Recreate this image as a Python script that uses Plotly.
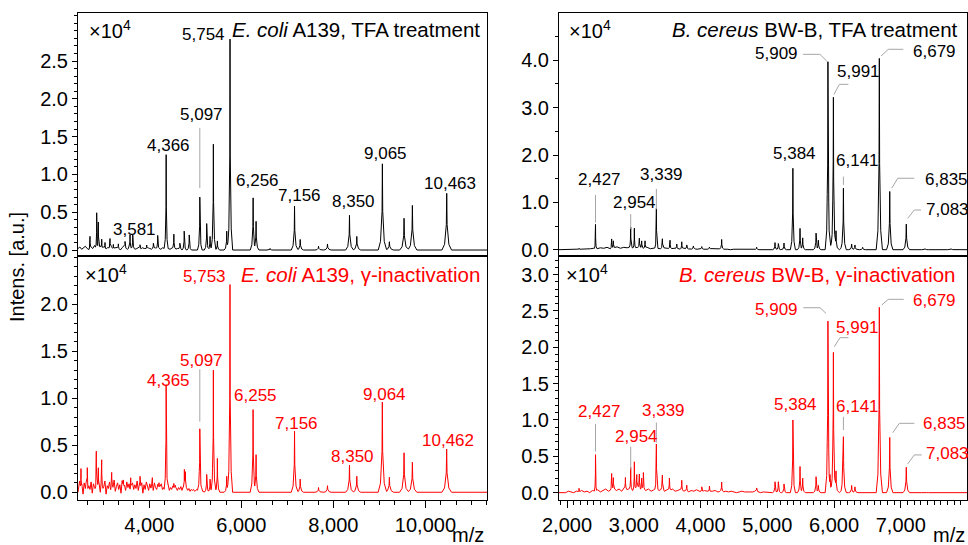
import numpy as np
import plotly.graph_objects as go

W, H = 968, 545
FONT = "Liberation Sans, Arial, sans-serif"

# ---------------- data (intensities in units of 10^4) ----------------
ecoli_tfa_mz = [2711, 2856, 2892, 2965, 3037, 3146, 3218, 3327, 3472, 3581, 3640, 3798, 3943,
                4088, 4182, 4366, 4533, 4664, 4758, 4867, 5097, 5247, 5320, 5392, 5479, 5682,
                5754, 6256, 6320, 6624, 7156, 7279, 7677, 7872, 8350, 8509, 9065, 9217, 9536,
                9717, 10463]
ecoli_tfa_h = [0.16, 0.48, 0.34, 0.12, 0.08, 0.12, 0.06, 0.06, 0.08, 0.17, 0.17, 0.05, 0.05,
               0.07, 0.18, 1.25, 0.20, 0.08, 0.25, 0.20, 0.70, 0.35, 0.18, 1.40, 0.12, 0.25,
               2.79, 0.69, 0.38, 0.02, 0.58, 0.14, 0.05, 0.08, 0.46, 0.18, 1.14, 0.11, 0.42,
               0.59, 0.75]
ecoli_tfa_noise_start, ecoli_tfa_noise_step = 2450, 40
ecoli_tfa_noise = [0.02, 0.04, 0.01, 0.03, 0.05, 0.02, 0.00, 0.04, 0.02, 0.06,
                   0.01, 0.03, 0.05, 0.02, 0.04, 0.01, 0.03, 0.02, 0.05, 0.01,
                   0.03, 0.04, 0.02, 0.00, 0.03, 0.05, 0.02, 0.01, 0.04, 0.02,
                   0.03, 0.01, 0.02, 0.04, 0.01, 0.03, 0.02, 0.01, 0.03, 0.02,
                   0.01, 0.02, 0.03, 0.01, 0.02, 0.01, 0.03, 0.02, 0.01, 0.02,
                   0.01, 0.02, 0.01, 0.01, 0.02, 0.01, 0.01]
ecoli_tfa_labels = [3581, 4366, 5097, 5754, 6256, 7156, 8350, 9065, 10463]
ecoli_tfa_yticks = [0.0, 0.5, 1.0, 1.5, 2.0, 2.5]

ecoli_gamma_mz = [2515, 2652, 2848, 2892, 2965, 3182, 3436, 3595, 3798, 4066, 4211, 4365, 4533,
                  4762, 4784, 5097, 5247, 5320, 5392, 5479, 5682, 5753, 6255, 6320, 7156, 7279,
                  7677, 7872, 8350, 8509, 9064, 9217, 9536, 9717, 10462]
ecoli_gamma_h = [0.22, 0.21, 0.36, 0.21, 0.26, 0.13, 0.09, 0.13, 0.11, 0.10, 0.08, 1.08, 0.08,
                 0.23, 0.17, 0.66, 0.19, 0.14, 1.30, 0.36, 0.17, 2.21, 0.88, 0.40, 0.65, 0.14,
                 0.05, 0.07, 0.29, 0.17, 0.96, 0.16, 0.42, 0.32, 0.46]
ecoli_gamma_noise_start, ecoli_gamma_noise_step = 2460, 25
ecoli_gamma_noise = [0.05, 0.12, 0.02, 0.08, -0.02, 0.10, 0.04, 0.14, 0.01, 0.07,
                     0.03, 0.11, -0.01, 0.09, 0.05, 0.02, 0.13, 0.04, 0.08, 0.00,
                     0.10, 0.03, 0.06, 0.12, -0.02, 0.07, 0.04, 0.11, 0.02, 0.09,
                     0.05, 0.13, 0.01, 0.06, 0.10, 0.03, 0.08, -0.01, 0.12, 0.04,
                     0.07, 0.02, 0.11, 0.05, 0.09, 0.00, 0.06, 0.10, 0.03, 0.08,
                     0.04, 0.12, 0.02, 0.07, 0.05, 0.10, -0.01, 0.08, 0.03, 0.11,
                     0.06, 0.02, 0.09, 0.04, 0.07, 0.01, 0.10, 0.05, 0.03, 0.08,
                     0.02, 0.06, 0.09, 0.03, 0.05, 0.01, 0.07, 0.04, 0.08, 0.02,
                     0.05, 0.03, 0.06, 0.01, 0.07, 0.04, 0.02, 0.05, 0.03, 0.06,
                     0.02, 0.04, 0.01, 0.05, 0.03, 0.02, 0.04, 0.01, 0.03, 0.02,
                     0.03, 0.01, 0.02, 0.03, 0.01, 0.02, 0.01, 0.02, 0.01, 0.01]
ecoli_gamma_labels = [4365, 5097, 5753, 6255, 7156, 8350, 9064, 10462]
ecoli_gamma_yticks = [0.0, 0.5, 1.0, 1.5, 2.0]

bcereus_tfa_mz = [2180, 2427, 2669, 2694, 2954, 3009, 3084, 3119, 3169, 3339, 3429, 3544, 3644,
                  3719, 3794, 3894, 4019, 4134, 4317, 4841, 5116, 5166, 5251, 5384, 5491, 5531,
                  5731, 5766, 5909, 5940, 5991, 6030, 6125, 6141, 6264, 6314, 6429, 6679, 6835,
                  7083, 7364, 7754]
bcereus_tfa_h = [0.02, 0.51, 0.20, 0.15, 0.42, 0.42, 0.20, 0.15, 0.15, 0.84, 0.20, 0.18, 0.10,
                 0.15, 0.08, 0.06, 0.05, 0.04, 0.20, 0.05, 0.15, 0.13, 0.14, 1.72, 0.45, 0.25,
                 0.35, 0.20, 3.97, 0.30, 3.22, 0.40, 0.30, 1.30, 0.12, 0.10, 0.05, 4.04, 1.23,
                 0.54, 0.02, 0.02]
bcereus_tfa_noise_start, bcereus_tfa_noise_step = 1900, 50
bcereus_tfa_noise = [0.00, 0.01, 0.00, 0.01, 0.00, 0.01, 0.01, 0.02, 0.01, 0.02,
                     0.03, 0.02, 0.04, 0.03, 0.05, 0.02, 0.04, 0.06, 0.03, 0.05,
                     0.04, 0.06, 0.03, 0.05, 0.04, 0.03, 0.05, 0.02, 0.04, 0.03,
                     0.02, 0.04, 0.03, 0.02, 0.03, 0.02, 0.01, 0.03, 0.02, 0.01,
                     0.02, 0.01, 0.02, 0.01, 0.01, 0.02, 0.01, 0.01, 0.02, 0.01,
                     0.01, 0.00, 0.01, 0.01, 0.00, 0.01, 0.01, 0.00, 0.01, 0.00]
bcereus_tfa_yticks = [0.0, 1.0, 2.0, 3.0, 4.0]

bcereus_gamma_mz = [2180, 2427, 2669, 2694, 2875, 2954, 3009, 3045, 3084, 3119, 3144, 3339, 3429,
                    3534, 3719, 3794, 4019, 4134, 4317, 4841, 5116, 5166, 5251, 5384, 5491, 5531,
                    5731, 5766, 5909, 5940, 5991, 6030, 6125, 6141, 6264, 6314, 6679, 6835, 7083,
                    7364, 7754]
bcereus_gamma_h = [0.05, 0.50, 0.22, 0.15, 0.15, 0.30, 0.38, 0.18, 0.20, 0.15, 0.22, 0.61, 0.20,
                   0.17, 0.14, 0.08, 0.07, 0.08, 0.13, 0.05, 0.15, 0.15, 0.12, 1.00, 0.36, 0.20,
                   0.22, 0.10, 2.36, 0.25, 1.93, 0.30, 0.25, 0.77, 0.10, 0.08, 2.55, 0.76, 0.35,
                   0.01, 0.01]
bcereus_gamma_noise_start, bcereus_gamma_noise_step = 1900, 40
bcereus_gamma_noise = [0.00, 0.01, 0.00, 0.02, 0.01, 0.00, 0.02, 0.01, 0.03, 0.01,
                       0.02, 0.00, 0.03, 0.02, 0.04, 0.01, 0.03, 0.05, 0.02, 0.04,
                       0.06, 0.03, 0.05, 0.02, 0.07, 0.04, 0.06, 0.03, 0.05, 0.08,
                       0.04, 0.06, 0.03, 0.05, 0.02, 0.04, 0.06, 0.03, 0.05, 0.02,
                       0.04, 0.03, 0.05, 0.02, 0.03, 0.04, 0.02, 0.03, 0.01, 0.03,
                       0.02, 0.04, 0.02, 0.01, 0.03, 0.02, 0.01, 0.02, 0.03, 0.01,
                       0.02, 0.01, 0.02, 0.01, 0.02, 0.01, 0.00, 0.01, 0.02, 0.01,
                       0.01, 0.00, 0.01, 0.02, 0.01, 0.00, 0.01, 0.01]
bcereus_labels = [2427, 2954, 3339, 5384, 5909, 5991, 6141, 6679, 6835, 7083]
bcereus_gamma_yticks = [0.0, 0.5, 1.0, 1.5, 2.0, 2.5, 3.0]

# ---------------- label styles (pixel offsets from peak tops) ----------------
style_ecoli_tfa = {
    3581: ("center", 4, 8, None), 4366: ("center", 2, 10, None),
    5097: ("center", 2, 83, [(0, -69), (0, -9)]), 5754: ("right", -3, 5, None),
    6256: ("center", 4, 17, None), 7156: ("center", 4.5, 11, None),
    8350: ("center", 4, 13.5, None), 9065: ("center", 3.4, 10.5, None),
    10463: ("center", 3.4, 10, None)}
style_ecoli_gamma = {
    4365: ("center", 2.3, 10.6, None), 5097: ("center", 2, 70, [(0, -61), (0, -8.6)]),
    5753: ("right", -2, 8, None), 6255: ("center", 2, 13.6, None),
    7156: ("center", 2, 8, None), 8350: ("center", 3, 8.3, None),
    9064: ("center", 2, 8, None), 10462: ("center", 1, 9, None)}
style_bc_tfa = {
    2427: ("center", 3.5, 45.6, [(0, -30.6), (0, -3)]),
    2954: ("center", 4.3, 27.5, [(0, -15.8), (0, -0.7)]),
    3339: ("center", 5.3, 35, [(0, -21), (0, -0.6)]),
    5384: ("center", 2, 15, None),
    5909: ("right", -28, 8.4, [(-25, -7.4), (-8, -7.4), (-1.2, -0.7)]),
    5991: ("center", 25, 25.5, [(15, -12.9), (6, -12.9), (0.6, -2.9)]),
    6141: ("center", 14.3, 27.5, [(0, -11.5), (0, -3.2)]),
    6679: ("left", 31.7, 6.7, [(24, -9.1), (9, -9.1), (1.7, -2.4)]),
    6835: ("left", 33, 11.5, [(24.6, -13.2), (8, -13.2), (2, -3.2)]),
    7083: ("left", 17.4, 14.8, [(14.7, -14.1), (8, -14.1), (1.4, -5.8)])}
style_bc_gamma = {
    2427: ("center", 3.5, 44.7, [(0, -32.4), (0, -4.7)]),
    2954: ("center", 6, 34, [(0, -24.2), (0, -1.6)]),
    3339: ("center", 7, 37.7, [(0, -25.7), (0, -5.7)]),
    5384: ("center", 3, 15.7, None),
    5909: ("right", -28, 12, [(-24.6, -13.4), (-7.9, -13.4), (-1.9, -7.8)]),
    5991: ("center", 24.3, 25, [(15, -14.7), (6.6, -14.7), (0.9, -5.7)]),
    6141: ("center", 14.3, 30, [(0, -20), (0, -6.7)]),
    6679: ("left", 31.7, 6.6, [(24.4, -8), (9, -8), (2.4, -2.3)]),
    6835: ("left", 31.3, 14, [(24.6, -14.1), (9.6, -14.1), (3, -4.7)]),
    7083: ("left", 17.4, 14, [(15.4, -12.3), (8, -12.3), (1.4, -3.3)])}

RED = "#ff0000"
BLACK = "#000000"
LEAD = "#a6a6a6"

panels = [
    dict(ax="", mz=ecoli_tfa_mz, h=ecoli_tfa_h, n0=ecoli_tfa_noise_start, nd=ecoli_tfa_noise_step,
         nv=ecoli_tfa_noise, color=BLACK, xpx=(78, 487.3), ypx=(13, 256), xr=(2450, 11345),
         yr=(-0.079, 3.135), yt=ecoli_tfa_yticks, ymin=0.1, xdt=2000, xmin=2000 / 6,
         showx=False, wfac=0.010, tip=0.0008, labels=ecoli_tfa_labels, style=style_ecoli_tfa,
         title="<i>E. coli</i> A139, TFA treatment", tshift=(-5, -17), x10=(9, -17)),
    dict(ax="2", mz=ecoli_gamma_mz, h=ecoli_gamma_h, n0=ecoli_gamma_noise_start,
         nd=ecoli_gamma_noise_step, nv=ecoli_gamma_noise, color=RED, xpx=(78, 487.3),
         ypx=(256, 499.5), xr=(2450, 11345), yr=(-0.077, 2.514), yt=ecoli_gamma_yticks,
         ymin=0.1, xdt=2000, xmin=2000 / 6, showx=True, wfac=0.010, tip=0.0008,
         labels=ecoli_gamma_labels, style=style_ecoli_gamma,
         title="<i>E. coli</i> A139, γ-inactivation", tshift=(-5.5, -18), x10=(5, -17)),
    dict(ax="3", mz=bcereus_tfa_mz, h=bcereus_tfa_h, n0=bcereus_tfa_noise_start,
         nd=bcereus_tfa_noise_step, nv=bcereus_tfa_noise, color=BLACK, xpx=(559, 967.3),
         ypx=(13, 256), xr=(1880, 7997), yr=(-0.133, 4.999), yt=bcereus_tfa_yticks, ymin=0.5,
         xdt=1000, xmin=100, showx=False, wfac=0.007, tip=0.0007, labels=bcereus_labels,
         style=style_bc_tfa, title="<i>B. cereus</i> BW-B, TFA treatment", tshift=(-7.5, -17),
         x10=(8, -17)),
    dict(ax="4", mz=bcereus_gamma_mz, h=bcereus_gamma_h, n0=bcereus_gamma_noise_start,
         nd=bcereus_gamma_noise_step, nv=bcereus_gamma_noise, color=RED, xpx=(559, 967.3),
         ypx=(256, 499.5), xr=(1880, 7997), yr=(-0.094, 3.256), yt=bcereus_gamma_yticks,
         ymin=0.1, xdt=1000, xmin=100, showx=True, wfac=0.007, tip=0.0007,
         labels=bcereus_labels, style=style_bc_gamma,
         title="<i>B. cereus</i> BW-B, γ-inactivation", tshift=(-9, -18), x10=(4.5, -17)),
]


def spectrum(mz, h, nmz, nval, xr, wfac, tip):
    profiles = []
    xs = [xr[0], xr[1]]
    for m, hh in zip(mz, h):
        w2, w1 = m * wfac, m * tip
        px_ = np.array([m - w2, m - 0.45 * w2, m - w1, m, m + w1, m + 0.45 * w2, m + w2])
        py_ = np.array([0, 0.1 * hh, 0.45 * hh, hh, 0.45 * hh, 0.1 * hh, 0])
        profiles.append((px_, py_))
        xs.extend(px_)
    xs.extend(nmz)
    x = np.unique(np.array(xs, dtype=float))
    env = np.zeros_like(x)
    for px_, py_ in profiles:
        env = np.maximum(env, np.interp(x, px_, py_, left=0, right=0))
    noise = np.interp(x, nmz, nval, left=0, right=0)
    return x, env + noise


fig = go.Figure()
annotations = []
layout_axes = {}

for p in panels:
    ax = p["ax"]
    xname, yname = "x" + ax, "y" + ax
    xkey, ykey = "xaxis" + ax, "yaxis" + ax
    xdom = [p["xpx"][0] / W, p["xpx"][1] / W]
    ydom = [(H - p["ypx"][1]) / H, (H - p["ypx"][0]) / H]
    xs = (p["xpx"][1] - p["xpx"][0]) / (p["xr"][1] - p["xr"][0])
    ys = (p["ypx"][1] - p["ypx"][0]) / (p["yr"][1] - p["yr"][0])

    nmz = p["n0"] + p["nd"] * np.arange(len(p["nv"]))
    x, y = spectrum(p["mz"], p["h"], nmz, p["nv"], p["xr"], p["wfac"], p["tip"])
    fig.add_trace(go.Scatter(x=x, y=y, mode="lines", xaxis=xname, yaxis=yname,
                             line=dict(color=p["color"], width=1), hoverinfo="skip",
                             showlegend=False))

    hmap = dict(zip(p["mz"], p["h"]))
    for m in p["labels"]:
        hh = hmap[m]
        anchor, dx, dy, lead = p["style"][m]
        annotations.append(dict(x=m, y=hh, xref=xname, yref=yname, text=f"{m:,}",
                                showarrow=False, xanchor=anchor, yanchor="middle",
                                xshift=dx, yshift=dy,
                                font=dict(family=FONT, size=17, color=p["color"])))
        if lead:
            lx = [m + a / xs for a, b in lead]
            ly = [hh - b / ys for a, b in lead]
            fig.add_trace(go.Scatter(x=lx, y=ly, mode="lines", xaxis=xname, yaxis=yname,
                                     line=dict(color=LEAD, width=1), hoverinfo="skip",
                                     showlegend=False))

    annotations.append(dict(x=1, y=1, xref=f"{xname} domain", yref=f"{yname} domain",
                            text=p["title"], showarrow=False, xanchor="right",
                            yanchor="middle", xshift=p["tshift"][0], yshift=p["tshift"][1],
                            font=dict(family=FONT, size=20.5, color=p["color"])))
    annotations.append(dict(x=0, y=1, xref=f"{xname} domain", yref=f"{yname} domain",
                            text="×10<sup>4</sup>", showarrow=False, xanchor="left",
                            yanchor="middle", xshift=p["x10"][0], yshift=p["x10"][1],
                            font=dict(family=FONT, size=20, color=BLACK)))

    layout_axes[xkey] = dict(
        domain=xdom, range=list(p["xr"]), anchor=yname, showgrid=False, zeroline=False,
        showline=True, mirror=True, linecolor="black", linewidth=1, automargin=False,
        ticks="outside" if p["showx"] else "", showticklabels=p["showx"],
        tickmode="linear", dtick=p["xdt"], tick0=0, ticklen=7, tickcolor="black",
        tickformat=",d", tickfont=dict(family=FONT, size=20, color="black"),
        minor=dict(ticks="outside" if p["showx"] else "", tickmode="linear", dtick=p["xmin"],
                   tick0=0, ticklen=4, tickcolor="black", showgrid=False))
    layout_axes[ykey] = dict(
        domain=ydom, range=list(p["yr"]), anchor=xname, showgrid=False, zeroline=False,
        showline=True, mirror=True, linecolor="black", linewidth=1, ticks="outside",
        automargin=False, tickmode="array", tickvals=p["yt"],
        ticktext=[f"{v:.1f}" for v in p["yt"]], ticklen=5, tickcolor="black",
        tickfont=dict(family=FONT, size=20, color="black"),
        minor=dict(ticks="outside", tickmode="linear", dtick=p["ymin"], tick0=0, ticklen=3,
                   tickcolor="black", showgrid=False))

annotations.append(dict(x=17 / W, y=(H - 267) / H, xref="paper", yref="paper",
                        text="Intens. [a.u.]", textangle=-90, showarrow=False,
                        xanchor="center", yanchor="middle",
                        font=dict(family=FONT, size=20, color="black")))
annotations.append(dict(x=486 / W, y=(H - 535) / H, xref="paper", yref="paper", text="m/z",
                        showarrow=False, xanchor="right", yanchor="middle",
                        font=dict(family=FONT, size=20, color="black")))
annotations.append(dict(x=967 / W, y=(H - 535) / H, xref="paper", yref="paper", text="m/z",
                        showarrow=False, xanchor="right", yanchor="middle",
                        font=dict(family=FONT, size=20, color="black")))

fig.update_layout(width=W, height=H, autosize=False,
                  margin=dict(l=0, r=0, t=0, b=0, pad=0, autoexpand=False),
                  paper_bgcolor="white", plot_bgcolor="white",
                  font=dict(family=FONT, color="black"),
                  annotations=annotations, showlegend=False, **layout_axes)

fig.write_html("out.html", config={"displayModeBar": False},
               post_script="document.body.style.margin='0';"
                           "document.body.style.overflow='hidden';")
